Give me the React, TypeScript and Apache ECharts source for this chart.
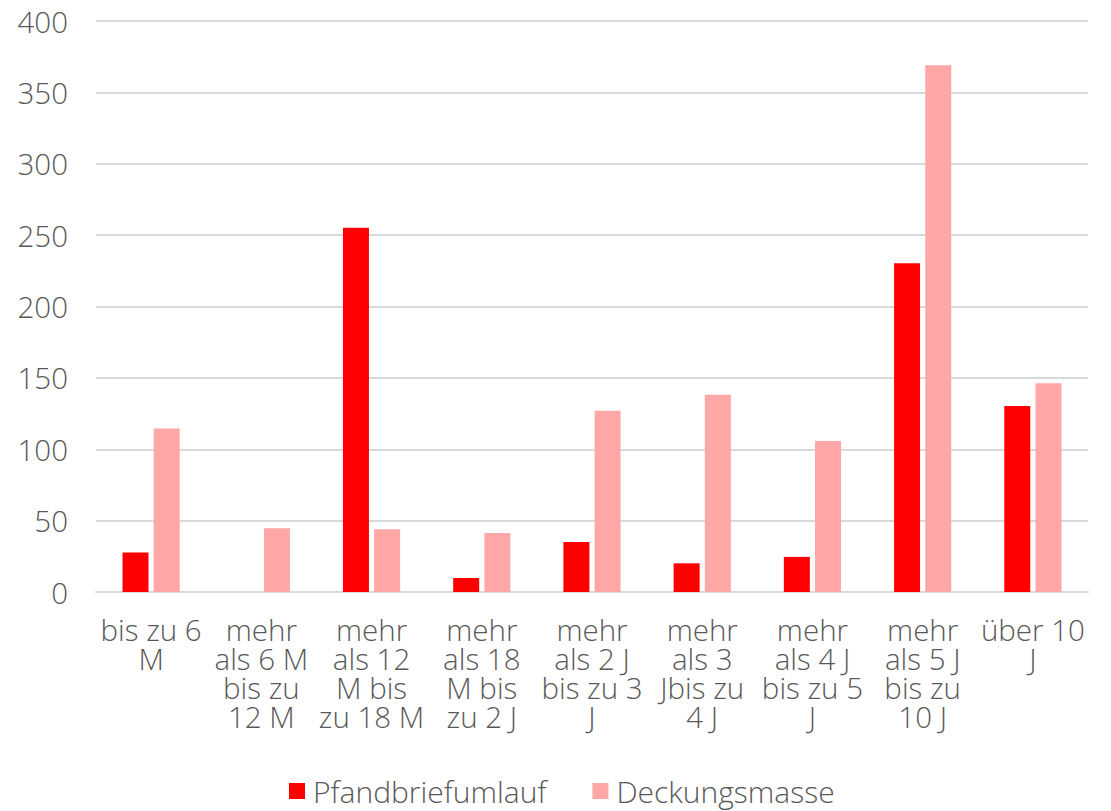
import React, { useEffect, useRef } from "react";
import * as echarts from "echarts";

const categories = [
  "bis zu 6\nM",
  "mehr\nals 6 M\nbis zu\n12 M",
  "mehr\nals 12\nM bis\nzu 18 M",
  "mehr\nals 18\nM bis\nzu 2 J",
  "mehr\nals 2 J\nbis zu 3\nJ",
  "mehr\nals 3\nJbis zu\n4 J",
  "mehr\nals 4 J\nbis zu 5\nJ",
  "mehr\nals 5 J\nbis zu\n10 J",
  "über 10\nJ",
];
const pfandbriefumlauf = [27.6, 0, 255.2, 9.8, 35.1, 20.1, 24.6, 230.3, 130.3];
const deckungsmasse = [114.6, 44.7, 44.0, 41.4, 126.9, 138.1, 105.8, 369.0, 146.3];

const FONT = "'Open Sans', 'Noto Sans', sans-serif";
const TEXT = "#595959";
const FS = 29.5;
const FW = 300;

export default function App() {
  const ref = useRef<HTMLDivElement>(null);
  useEffect(() => {
    if (!ref.current) return;
    const chart = echarts.init(ref.current, undefined, { renderer: "svg" });
    chart.setOption({
      animation: false,
      textStyle: { fontFamily: FONT },
      grid: { left: 96, right: 23, top: 21, bottom: 219, containLabel: false },
      legend: {
        top: 776,
        left: 289,
        padding: 0,
        itemWidth: 16,
        itemHeight: 16,
        itemGap: 46,
        icon: "rect",
        textStyle: { fontFamily: FONT, fontSize: 30, fontWeight: FW, color: TEXT, padding: [0, 0, 0, 3] },
        data: ["Pfandbriefumlauf", "Deckungsmasse"],
      },
      xAxis: {
        type: "category",
        data: categories,
        axisLine: { show: true, lineStyle: { color: "#D9D9D9", width: 2 } },
        axisTick: { show: false },
        axisLabel: {
          interval: 0,
          fontFamily: FONT,
          fontSize: FS,
          fontWeight: FW,
          color: TEXT,
          lineHeight: 29,
          margin: 23,
          align: "center",
        },
      },
      yAxis: {
        type: "value",
        min: 0,
        max: 400,
        interval: 50,
        axisLine: { show: false },
        axisTick: { show: false },
        splitLine: { lineStyle: { color: "#D9D9D9", width: 2 } },
        axisLabel: { fontFamily: FONT, fontSize: FS, fontWeight: FW, color: TEXT, margin: 28 },
      },
      series: [
        {
          name: "Pfandbriefumlauf",
          type: "bar",
          data: pfandbriefumlauf,
          barWidth: 26,
          barGap: "20%",
          itemStyle: { color: "#FF0000" },
        },
        {
          name: "Deckungsmasse",
          type: "bar",
          data: deckungsmasse,
          barWidth: 26,
          barGap: "20%",
          itemStyle: { color: "#FFA6A6" },
        },
      ],
    });
    return () => chart.dispose();
  }, []);
  return <div ref={ref} style={{ width: 1111, height: 811, position: "absolute", left: 0, top: 0 }} />;
}
